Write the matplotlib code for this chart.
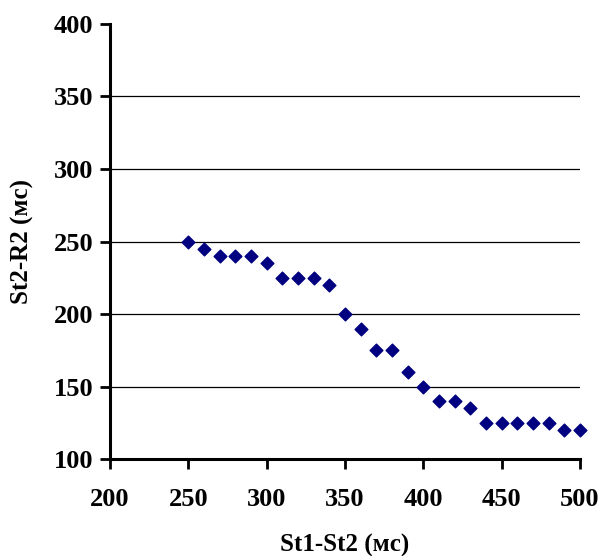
import matplotlib.pyplot as plt

# interval St1-St2 vs. St2-R2, both in ms
st1_st2 = [250, 260, 270, 280, 290, 300, 310, 320, 330, 340, 350, 360, 370,
           380, 390, 400, 410, 420, 430, 440, 450, 460, 470, 480, 490, 500]
st2_r2 = [250, 245, 240, 240, 240, 235, 225, 225, 225, 220, 200, 190, 175,
          175, 160, 150, 140, 140, 135, 125, 125, 125, 125, 125, 120, 120]

x_ticks = [200, 250, 300, 350, 400, 450, 500]
y_ticks = [100, 150, 200, 250, 300, 350, 400]

plt.rcParams['font.family'] = ['Liberation Serif', 'DejaVu Serif']
plt.rcParams['font.weight'] = 'bold'

fig = plt.figure(figsize=(6.01, 5.56), dpi=100)
ax = fig.add_axes([0.183, 0.174, 0.782, 0.783])

for y in y_ticks[1:-1]:
    ax.axhline(y, color='black', linewidth=0.9, zorder=1)

ax.scatter(st1_st2, st2_r2, marker='D', s=42, color='#000080', zorder=3,
           clip_on=False)

ax.set_xlim(200, 500)
ax.set_ylim(100, 400)
ax.set_xticks(x_ticks)
ax.set_yticks(y_ticks)
ax.tick_params(labelsize=19, width=2, length=7, direction='out')
ax.tick_params(axis='x', pad=14)
ax.tick_params(axis='y', pad=5)
for lbl in ax.get_xticklabels() + ax.get_yticklabels():
    lbl.set_fontweight('bold')

for side in ['top', 'right']:
    ax.spines[side].set_visible(False)
for side in ['left', 'bottom']:
    ax.spines[side].set_linewidth(2.2)

ax.set_xlabel('St1-St2 (мс)', fontsize=18, fontweight='bold', labelpad=16)
ax.set_ylabel('St2-R2 (мс)', fontsize=18, fontweight='bold', labelpad=14)

fig.savefig('out.png', dpi=100)
